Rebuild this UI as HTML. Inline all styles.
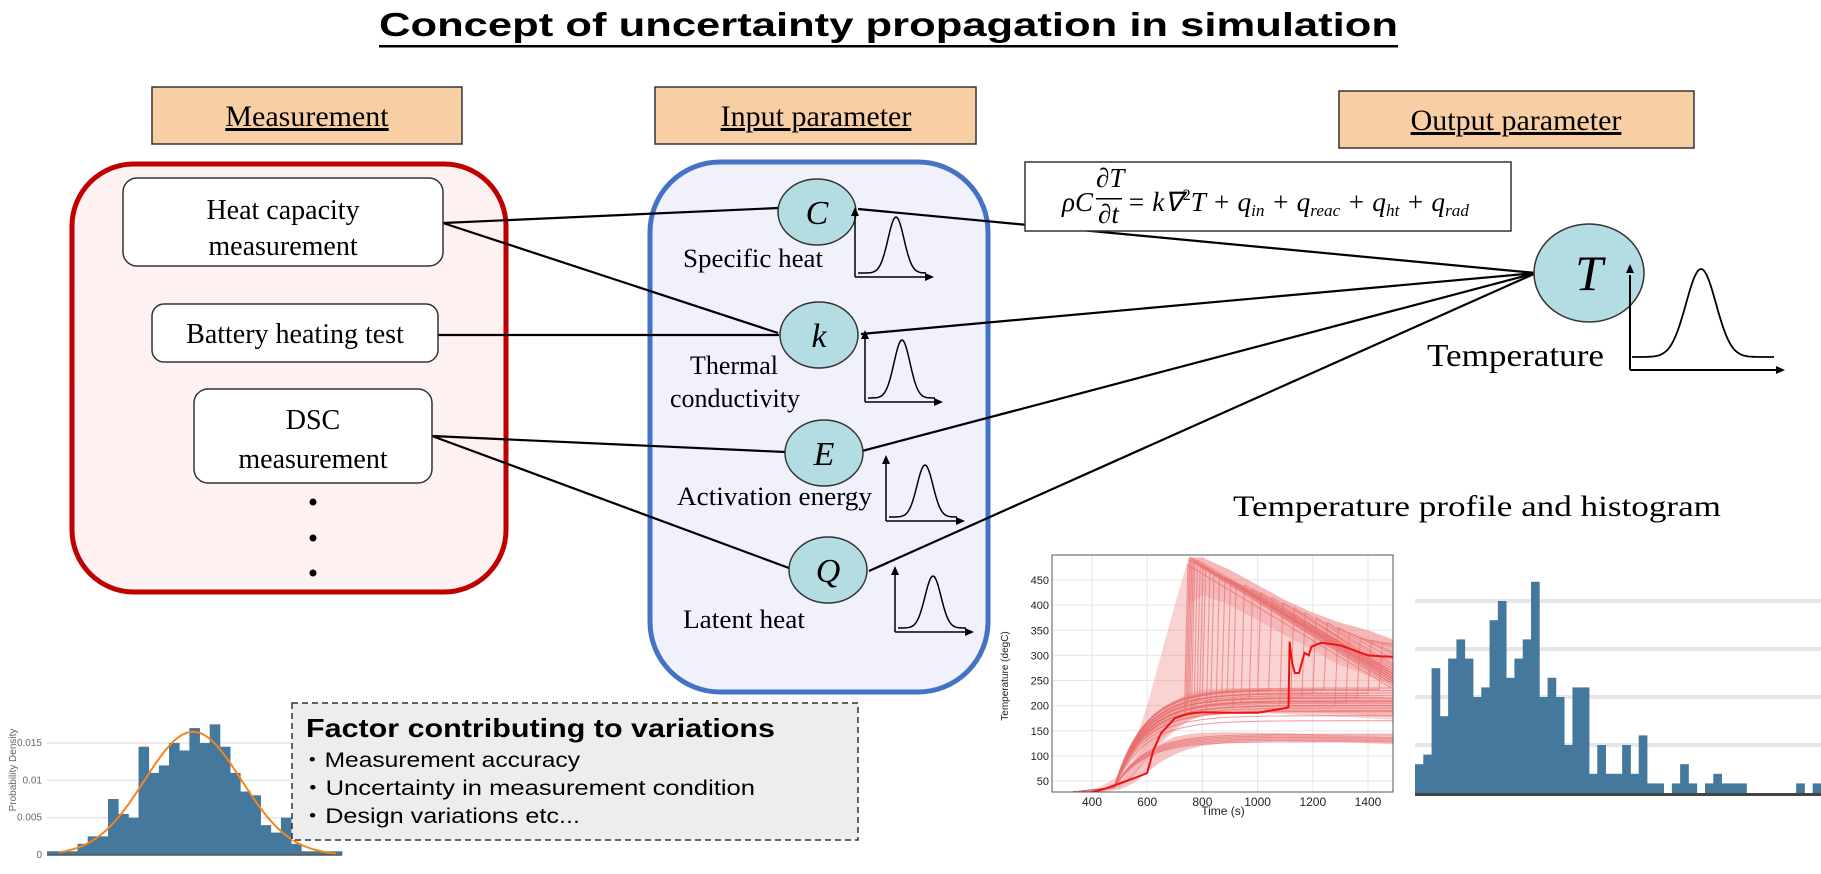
<!DOCTYPE html>
<html><head><meta charset="utf-8"><style>
html,body{margin:0;padding:0;background:#fff;}
svg{display:block;}
.serif{font-family:"Liberation Serif",serif;}
.sans{font-family:"Liberation Sans",sans-serif;}
</style></head>
<body>
<svg id="root" width="1821" height="874" viewBox="0 0 1821 874" xmlns="http://www.w3.org/2000/svg">
<rect width="1821" height="874" fill="#fff"/>
<text class="sans" x="379" y="36" font-size="33" font-weight="bold" textLength="1019" lengthAdjust="spacingAndGlyphs">Concept of uncertainty propagation in simulation</text>
<rect x="379" y="45" width="1019" height="2.5" fill="#000"/>

<g>
<rect x="152" y="87" width="310" height="57" fill="#f8cfa4" stroke="#333" stroke-width="1.5"/>
<text class="serif" x="307" y="126" font-size="30" text-anchor="middle" text-decoration="underline">Measurement</text>
</g>
<g>
<rect x="655" y="87" width="321" height="57" fill="#f8cfa4" stroke="#333" stroke-width="1.5"/>
<text class="serif" x="816" y="126" font-size="30" text-anchor="middle" text-decoration="underline">Input parameter</text>
</g>
<g>
<rect x="1339" y="91" width="355" height="57" fill="#f8cfa4" stroke="#333" stroke-width="1.5"/>
<text class="serif" x="1516" y="130" font-size="30" text-anchor="middle" text-decoration="underline">Output parameter</text>
</g>

<rect x="72" y="164" width="434" height="428" rx="62" fill="#fdf1f1" stroke="#c00000" stroke-width="5"/>
<rect x="650" y="162" width="338" height="530" rx="70" fill="#f1f1fc" stroke="#4472c4" stroke-width="5"/>

<g stroke="#000" stroke-width="2.2" fill="none">
<line x1="443" y1="223" x2="778" y2="208"/>
<line x1="443" y1="223" x2="778" y2="333"/>
<line x1="438" y1="335" x2="779" y2="335"/>
<line x1="432" y1="436" x2="785" y2="452"/>
<line x1="432" y1="436" x2="789" y2="568"/>
<line x1="858" y1="209" x2="1536" y2="273"/>
<line x1="861" y1="334" x2="1536" y2="273"/>
<line x1="862" y1="451" x2="1536" y2="273"/>
<line x1="869" y1="571" x2="1536" y2="273"/>
</g>

<g>
<rect x="123" y="178" width="320" height="88" rx="14" fill="#fff" stroke="#333" stroke-width="1.5"/>
<text class="serif" x="283" y="219" font-size="28" text-anchor="middle">Heat capacity</text>
<text class="serif" x="283" y="255" font-size="28" text-anchor="middle">measurement</text>
</g>
<g>
<rect x="152" y="304" width="286" height="58" rx="12" fill="#fff" stroke="#333" stroke-width="1.5"/>
<text class="serif" x="295" y="343" font-size="28" text-anchor="middle">Battery heating test</text>
</g>
<g>
<rect x="194" y="389" width="238" height="94" rx="14" fill="#fff" stroke="#333" stroke-width="1.5"/>
<text class="serif" x="313" y="429" font-size="28" text-anchor="middle">DSC</text>
<text class="serif" x="313" y="468" font-size="28" text-anchor="middle">measurement</text>
</g>
<g fill="#000">
<circle cx="313" cy="502" r="3.5"/><circle cx="313" cy="538" r="3.5"/><circle cx="313" cy="573" r="3.5"/>
</g>

<g>
<rect x="1025" y="162" width="486" height="69" fill="#fff" stroke="#333" stroke-width="1.5"/>
<g font-family="Liberation Serif,serif" font-style="italic" font-size="27">
<text x="1062" y="211">ρC</text>
<text x="1096" y="187">∂T</text>
<rect x="1096" y="198" width="26" height="1.5" fill="#000"/>
<text x="1098" y="223">∂t</text>
<text x="1127" y="211" textLength="342" lengthAdjust="spacingAndGlyphs">= k∇<tspan font-size="16" dy="-11" font-style="normal">2</tspan><tspan dy="11">T + q</tspan><tspan font-size="17" dy="5">in</tspan><tspan dy="-5"> + q</tspan><tspan font-size="17" dy="5">reac</tspan><tspan dy="-5"> + q</tspan><tspan font-size="17" dy="5">ht</tspan><tspan dy="-5"> + q</tspan><tspan font-size="17" dy="5">rad</tspan></text>
</g>
</g>

<g><ellipse cx="817" cy="212" rx="39" ry="33" fill="#b4dde3" stroke="#333" stroke-width="1.5"/><text class="serif" x="817" y="224" font-size="34" font-style="italic" text-anchor="middle">C</text></g>
<g><ellipse cx="819" cy="335" rx="39" ry="33" fill="#b4dde3" stroke="#333" stroke-width="1.5"/><text class="serif" x="819" y="347" font-size="34" font-style="italic" text-anchor="middle">k</text></g>
<g><ellipse cx="824" cy="453" rx="39" ry="33" fill="#b4dde3" stroke="#333" stroke-width="1.5"/><text class="serif" x="824" y="465" font-size="34" font-style="italic" text-anchor="middle">E</text></g>
<g><ellipse cx="828" cy="570" rx="39" ry="33" fill="#b4dde3" stroke="#333" stroke-width="1.5"/><text class="serif" x="828" y="582" font-size="34" font-style="italic" text-anchor="middle">Q</text></g>
<g><ellipse cx="1589" cy="273" rx="55" ry="49" fill="#b4dde3" stroke="#333" stroke-width="1.5"/><text class="serif" x="1589" y="290" font-size="50" font-style="italic" text-anchor="middle">T</text></g>

<g class="serif" font-size="26">
<text x="683" y="267" textLength="140" lengthAdjust="spacingAndGlyphs">Specific heat</text>
<text x="734" y="374" text-anchor="middle">Thermal</text>
<text x="735" y="407" text-anchor="middle">conductivity</text>
<text x="677" y="505" textLength="195" lengthAdjust="spacingAndGlyphs">Activation energy</text>
<text x="683" y="628" textLength="122" lengthAdjust="spacingAndGlyphs">Latent heat</text>
<text x="1427" y="366" font-size="32" textLength="177" lengthAdjust="spacingAndGlyphs">Temperature</text>
<text x="1233" y="516" font-size="30" textLength="488" lengthAdjust="spacingAndGlyphs">Temperature profile and histogram</text>
</g>

<g id="minis"></g>
<g id="lefthist"></g>

<g>
<rect x="292" y="703" width="566" height="137" fill="#ededed" stroke="#333" stroke-width="1.5" stroke-dasharray="6,4"/>
<text class="sans" x="306" y="737" font-size="26" font-weight="bold" textLength="469" lengthAdjust="spacingAndGlyphs">Factor contributing to variations</text>
<text class="sans" x="300" y="767" font-size="21" textLength="280" lengthAdjust="spacingAndGlyphs">・Measurement accuracy</text>
<text class="sans" x="300" y="795" font-size="21" textLength="455" lengthAdjust="spacingAndGlyphs">・Uncertainty in measurement condition</text>
<text class="sans" x="300" y="823" font-size="21" textLength="280" lengthAdjust="spacingAndGlyphs">・Design variations etc...</text>
</g>

<g id="tempchart"></g>
<g id="righthist"></g>
</svg>

<script>
// ---------- data ----------
const leftBins = [0.0005,0.0005,0.0005,0.0015,0.0025,0.0025,0.0075,0.0055,0.005,0.0145,0.011,0.012,0.015,0.014,0.017,0.015,0.0175,0.0145,0.011,0.0085,0.008,0.004,0.003,0.005,0.0015,0.0005,0.0005,0.0005,0.0005];
const leftTicks = [0,0.005,0.01,0.015];
const leftTickLabels = ["0","0.005","0.01","0.015"];
const fitMean = 14.36, fitSd = 4.77, fitPeak = 0.0165;

const times = [280,400,500,550,600,650,700,750,800,900,1000,1100,1200,1300,1400,1500];
const envUpper = [25,30,60,120,200,300,400,495,495,470,440,410,385,365,350,330];
const envLower = [25,27,38,60,95,125,150,170,180,185,185,183,180,178,175,172];
const decayUpper = [0,0,0,0,0,0,0,495,495,470,440,410,385,365,350,330];
const decayLower = [0,0,0,0,0,0,0,400,420,400,370,340,310,280,260,240];
const midUpper = [25,28,45,85,140,185,210,225,232,235,235,232,228,224,220,215];
const midLower = [25,27,38,60,95,130,155,170,180,186,188,188,186,184,181,178];
const lowUpper = [25,28,40,65,100,125,138,143,146,147,146,145,143,141,139,137];
const lowLower = [25,26,33,45,68,88,103,113,120,126,129,129,128,127,125,123];
const plateauLevels = [128,131,134,137,140,143,170,180,188,195,200,205,210,215,220,225,230,235,190,200,208,215];
const runawayOnsets = [735,740,745,750,755,760,770,780,790,800,815,830,850,870,890,910,940,970,1000,1040,1080,1120,1160,1200,1240,1280,1320,1360,1400,1440];
const runawayPeaks  = [480,490,495,492,488,485,490,480,478,475,470,465,460,455,450,445,440,432,425,415,405,395,385,375,365,355,345,335,330,325];
const runawayEnds   = [230,240,250,245,255,235,260,245,250,255,240,250,260,245,255,265,250,260,255,265,270,260,275,280,290,300,305,315,320,322];
const redTimes = [280,350,400,450,500,550,600,623,650,700,750,800,900,1000,1100,1112,1116,1125,1135,1150,1170,1185,1195,1230,1300,1400,1450,1500];
const redValues = [25,27,28,35,45,55,66,112,145,175,184,187,186,186,195,197,327,285,265,265,305,300,317,325,320,300,298,297];
const xTicks = [400,600,800,1000,1200,1400];
const yTicks = [50,100,150,200,250,300,350,400,450];

const rightCounts = [6,8,26,16,28,32,28,20,22,36,40,24,28,32,44,20,24,20,10,22,22,4,10,4,4,10,4,12,2,2,0,2,6,2,0,2,4,2,2,2,0,0,0,0,0,0,2,0,2];
const rightGrid = [10,20,30,40];

const NS = "http://www.w3.org/2000/svg";
function mk(tag, attrs, parent){const e=document.createElementNS(NS,tag);for(const k in attrs)e.setAttribute(k,attrs[k]);parent.appendChild(e);return e;}

// ---------- mini distributions ----------
const minis = document.getElementById('minis');
const miniSpecs = [[855,207,277,934,896],[865,330,402,943,902],[886,455,521,965,925],[895,566,632,974,933]];
function arrowHead(g,x,y,dir){
  const p = dir==='r' ? `${x},${y} ${x-9},${y-4} ${x-9},${y+4}` : `${x},${y} ${x-4},${y+9} ${x+4},${y+9}`;
  mk('polygon',{points:p,fill:'#000'},g);
}
miniSpecs.forEach(s=>{
  const [ox,top,base,right,px]=s;
  const g=mk('g',{},minis);
  
  
  mk('line',{x1:ox,y1:top+6,x2:ox,y2:base,stroke:'#000','stroke-width':1.5},g);
  mk('line',{x1:ox,y1:base,x2:right-4,y2:base,stroke:'#000','stroke-width':1.5},g);
  arrowHead(g,ox,top,'u');arrowHead(g,right,base,'r');
  let d='';const h=base-top-10;
  for(let x=ox+3;x<=right-8;x+=1){const y=base-4-(h-4)*Math.exp(-Math.pow((x-px)/8,2)/2);d+=(d?'L':'M')+x+','+y.toFixed(1);}
  mk('path',{d:d,fill:'none',stroke:'#000','stroke-width':1.5},g);
});
{
  const g=mk('g',{},minis);
  
  
  mk('line',{x1:1630,y1:275,x2:1630,y2:370,stroke:'#000','stroke-width':2},g);
  mk('line',{x1:1630,y1:370,x2:1776,y2:370,stroke:'#000','stroke-width':2},g);
  arrowHead(g,1630,264,'u');arrowHead(g,1785,370,'r');
  let d='';for(let x=1632;x<=1774;x++){const y=357-88*Math.exp(-Math.pow((x-1701)/15,2)/2);d+=(d?'L':'M')+x+','+y.toFixed(1);}
  mk('path',{d:d,fill:'none',stroke:'#000','stroke-width':1.8},g);
}

// ---------- left histogram ----------
(function(){
  const g=document.getElementById('lefthist');
  const x0=47,bw=10.17,base=855,pxPer=112/0.015;
  const yS=v=>base-v*pxPer;
  leftTicks.forEach((t,i)=>{
    if(t>0){const l=mk('line',{x1:x0,y1:yS(t),x2:300,y2:yS(t),stroke:'#e0e0e0','stroke-width':1.2},g);
    }
    const tx=mk('text',{x:42,y:yS(t)+3,'font-size':10,'text-anchor':'end',fill:'#666','font-family':'Liberation Sans,sans-serif'},g);
    
    tx.textContent=leftTickLabels[i];
  });
  const yt=mk('text',{x:0,y:0,'font-size':10,fill:'#666','text-anchor':'middle','font-family':'Liberation Sans,sans-serif',transform:'translate(16,770) rotate(-90)'},g);
  
  yt.textContent='Probability Density';
  leftBins.forEach((v,i)=>{
    const r=mk('rect',{x:x0+i*bw,y:yS(v),width:bw+0.4,height:v*pxPer,fill:'#44789c'},g);
    
  });
  const ax=mk('line',{x1:x0,y1:base,x2:x0+leftBins.length*bw,y2:base,stroke:'#555','stroke-width':1.5},g);
  
  let d='';for(let b=1.2;b<=leftBins.length-0.5;b+=0.2){const v=fitPeak*Math.exp(-Math.pow((b-fitMean)/fitSd,2)/2);d+=(d?'L':'M')+(x0+b*bw).toFixed(1)+','+yS(v).toFixed(1);}
  const fit=mk('path',{d:d,fill:'none',stroke:'#f58518','stroke-width':2},g);
  
})();

// ---------- temperature chart ----------
(function(){
  const g=document.getElementById('tempchart');
  const L=1052,R=1393,T=555,B=792;
  const xS=t=>1092+(t-400)*0.276;
  const yS=v=>781-(v-50)*0.5025;
  const bg=mk('rect',{x:L,y:T,width:R-L,height:B-T,fill:'#fff'},g);
  
  xTicks.forEach(t=>{
    const l=mk('line',{x1:xS(t),y1:T,x2:xS(t),y2:B,stroke:'#e6e6e6','stroke-width':1},g);
    
    const tx=mk('text',{x:xS(t),y:B+14,'font-size':12,'text-anchor':'middle','font-family':'Liberation Sans,sans-serif',fill:'#222'},g);
    
    tx.textContent=t;
  });
  yTicks.forEach(v=>{
    const l=mk('line',{x1:L,y1:yS(v),x2:R,y2:yS(v),stroke:'#e6e6e6','stroke-width':1},g);
    
    const tx=mk('text',{x:L-3,y:yS(v)+4,'font-size':11,'text-anchor':'end','font-family':'Liberation Sans,sans-serif',fill:'#222'},g);
    
    tx.textContent=v;
  });
  const clip=mk('clipPath',{id:'tclip'},g);mk('rect',{x:L,y:T,width:R-L,height:B-T},clip);
  const cg=mk('g',{'clip-path':'url(#tclip)'},g);
  function band(up,lo,name,op,start){
    const s=start||0;
    let d='';for(let i=s;i<times.length;i++){d+=(i>s?'L':'M')+xS(times[i]).toFixed(1)+','+yS(up[i]).toFixed(1);}
    for(let i=times.length-1;i>=s;i--)d+='L'+xS(times[i]).toFixed(1)+','+yS(lo[i]).toFixed(1);
    const p=mk('path',{d:d+'Z',fill:'#ee8a8a','fill-opacity':op},cg);
    
    
  }
  band(envUpper,envLower,'temp-main-envelope',0.38);
  band(decayUpper,decayLower,'temp-decay-band',0.35,7);
  band(midUpper,midLower,'temp-mid-band',0.35);
  band(lowUpper,lowLower,'temp-low-envelope',0.5);
  function rise(t,P){ if(t<480) return 25+(t-280)*0.06; const s=1-Math.exp(-(t-480)/110); return 37+(P-37)*s; }
  function drawPts(pts){
    let d='';pts.forEach((p,i)=>{d+=(i?'L':'M')+xS(p[0]).toFixed(1)+','+yS(p[1]).toFixed(1);});
    const p=mk('path',{d:d,fill:'none',stroke:'#e87070','stroke-width':1.1,'stroke-opacity':0.65},cg);
    
    
  }
  plateauLevels.forEach(P=>{
    const pts=[];for(let t=280;t<=1500;t+=10)pts.push([t,rise(t,P)]);drawPts(pts);
  });
  runawayOnsets.forEach((on,i)=>{
    const pk=runawayPeaks[i],en=runawayEnds[i],P=200+(i%5)*8;
    const pts=[];for(let t=280;t<on;t+=10)pts.push([t,rise(t,P)]);
    pts.push([on,rise(on,P)]);pts.push([on+12,pk]);pts.push([1500,en]);drawPts(pts);
  });
  let d='';redTimes.forEach((t,i)=>{d+=(i?'L':'M')+xS(t).toFixed(1)+','+yS(redValues[i]).toFixed(1);});
  const red=mk('path',{d:d,fill:'none',stroke:'#f01010','stroke-width':2},cg);
  
  const fr=mk('rect',{x:L,y:T,width:R-L,height:B-T,fill:'none',stroke:'#555','stroke-width':1},g);
  
  const xt=mk('text',{x:1223,y:815,'font-size':12,'text-anchor':'middle','font-family':'Liberation Sans,sans-serif',fill:'#222'},g);
  
  xt.textContent='Time (s)';
  const ytl=mk('text',{x:0,y:0,'font-size':10,'text-anchor':'middle','font-family':'Liberation Sans,sans-serif',fill:'#222',transform:'translate(1008,676) rotate(-90)'},g);
  
  ytl.textContent='Temperature (degC)';
})();

// ---------- right histogram ----------
(function(){
  const g=document.getElementById('righthist');
  const x0=1415,base=793,bw=(1821-1415)/rightCounts.length,pu=4.8;
  rightGrid.forEach(v=>{
    const l=mk('rect',{x:x0,y:base-v*pu-2,width:1821-x0,height:4,fill:'#e6e6e6'},g);
    
  });
  rightCounts.forEach((c,i)=>{
    if(c<=0)return;
    const r=mk('rect',{x:x0+i*bw,y:base-c*pu,width:bw+0.4,height:c*pu,fill:'#44789c'},g);
    
  });
  const ax=mk('rect',{x:x0,y:base,width:1821-x0,height:3,fill:'#444'},g);
  
})();
</script>
</body></html>
